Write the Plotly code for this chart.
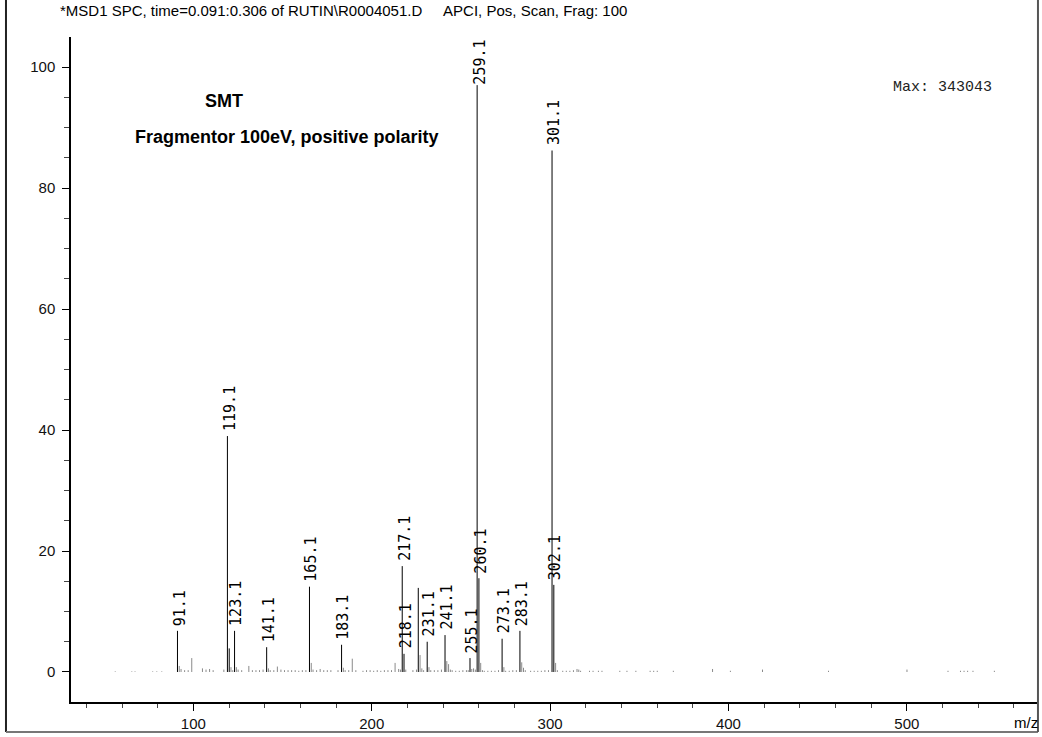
import plotly.graph_objects as go

# ---- data: labelled peaks (m/z, relative intensity %) ----
label_mz = [91.1, 119.1, 123.1, 141.1, 165.1, 183.1, 217.1, 218.1, 231.1, 241.1,
            255.1, 259.1, 260.1, 273.1, 283.1, 301.1, 302.1]
label_int = [6.8, 39.0, 6.8, 4.1, 14.1, 4.5, 17.5, 3.0, 5.0, 6.1,
             2.3, 100.0, 15.5, 5.5, 6.8, 86.2, 14.4]

# other notable (unlabelled) peaks drawn in black
major_mz = [120.1, 226.1]
major_int = [3.9, 13.9]

# minor peaks / noise (grey)
minor_mz = [56.2, 65.5, 67.3, 77.2, 79.5, 82.3, 92.1, 93.1, 95.1, 97.1, 99.1,
            105.1, 107.1, 109.1, 111.1, 117.1, 121.1, 122.1, 124.1, 125.1, 127.1,
            131.1, 133.1, 135.1, 137.1, 139.1, 142.1, 143.1, 145.1, 147.1, 149.1,
            151.1, 153.1, 155.1, 157.1, 159.1, 161.1, 163.1, 166.1, 167.1, 169.1,
            171.1, 173.1, 175.1, 177.1, 181.1, 184.1, 185.1, 187.1, 189.1, 191.1,
            195.1, 197.1, 199.1, 201.1, 203.1, 205.1, 207.1, 209.1, 211.1, 213.1,
            215.1, 216.1, 219.1, 223.1, 225.1, 227.1, 228.1, 229.1, 232.1, 233.1,
            235.1, 237.1, 239.1, 242.1, 243.1, 244.1, 245.1, 247.1, 249.1, 251.1,
            253.1, 254.1, 256.1, 257.1, 258.1, 261.1, 262.1, 263.1, 265.1, 267.1,
            269.1, 271.1, 274.1, 275.1, 277.1, 279.1, 281.1, 284.1, 285.1, 286.1,
            289.1, 291.1, 293.1, 295.1, 297.1, 299.1, 303.1, 304.1, 307.1, 309.1,
            311.1, 313.1, 315.1, 316.1, 317.1, 322.1, 324.1, 327.1, 329.1, 339.1,
            343.1, 348.1, 356.1, 358.1, 360.1, 369.1, 391.1, 401.1, 419.1, 456.1,
            500.1, 523.1, 530.1, 532.1, 534.1, 537.1, 549.1]
minor_int = [0.1, 0.1, 0.1, 0.1, 0.1, 0.1, 1.0, 0.5, 0.3, 0.3, 2.3,
             0.6, 0.4, 0.5, 0.3, 0.4, 0.8, 0.3, 0.8, 0.4, 0.3,
             1.0, 0.3, 0.3, 0.3, 0.4, 0.6, 0.3, 0.3, 0.9, 0.4,
             0.3, 0.3, 0.3, 0.3, 0.2, 0.3, 0.3, 1.5, 0.4, 0.3,
             0.5, 0.3, 0.3, 0.3, 0.3, 0.7, 0.3, 0.3, 2.2, 0.3,
             0.2, 0.3, 0.3, 0.2, 0.3, 0.2, 0.3, 0.3, 0.3, 1.5,
             0.5, 0.4, 0.4, 0.3, 0.4, 2.8, 0.6, 0.3, 0.8, 0.3,
             0.3, 0.3, 0.4, 1.8, 1.3, 0.4, 0.3, 0.2, 0.2, 0.3,
             0.3, 0.3, 0.5, 0.6, 0.4, 1.5, 0.3, 0.2, 0.2, 0.2,
             0.2, 0.3, 0.8, 0.2, 0.2, 0.3, 0.3, 1.6, 0.7, 0.3,
             0.2, 0.2, 0.2, 0.2, 0.3, 0.3, 1.5, 0.3, 0.2, 0.2,
             0.2, 0.3, 0.5, 0.4, 0.2, 0.2, 0.2, 0.2, 0.2, 0.2,
             0.2, 0.2, 0.2, 0.2, 0.2, 0.2, 0.5, 0.2, 0.4, 0.2,
             0.4, 0.2, 0.2, 0.2, 0.2, 0.2, 0.2]

title_text = "*MSD1 SPC, time=0.091:0.306 of RUTIN\\R0004051.D\u00a0\u00a0\u00a0\u00a0\u00a0APCI, Pos, Scan, Frag: 100"
max_text = "Max: 343043"

x_range = [31.4, 573]
y_range = [-4.96, 104.96]


def sticks(mz, inten):
    xs, ys = [], []
    for m, v in zip(mz, inten):
        xs += [m, m, None]
        ys += [0, v, None]
    return xs, ys


fig = go.Figure()
gx, gy = sticks(minor_mz, minor_int)
fig.add_trace(go.Scatter(x=gx, y=gy, mode="lines", line=dict(color="#8a8a8a", width=1),
                         hoverinfo="skip", showlegend=False))
bx, by = sticks(label_mz + major_mz, label_int + major_int)
fig.add_trace(go.Scatter(x=bx, y=by, mode="lines", line=dict(color="black", width=1),
                         hoverinfo="skip", showlegend=False))

annotations = []
label_font = dict(family="DejaVu Sans Mono", size=15, color="black")
for m, v in zip(label_mz, label_int):
    if v > 90:
        # label would leave plot area: pin it to the top, over the line
        annotations.append(dict(x=m, y=y_range[1], xref="x", yref="y", text=f"{m:.1f}",
                                textangle=-90, showarrow=False, xanchor="center",
                                yanchor="top", xshift=2, yshift=-2, bgcolor="white",
                                font=label_font, borderpad=0))
    else:
        annotations.append(dict(x=m, y=v, xref="x", yref="y", text=f"{m:.1f}",
                                textangle=-90, showarrow=False, xanchor="center",
                                yanchor="bottom", xshift=2, yshift=4,
                                font=label_font, borderpad=0))

annotations += [
    dict(x=0.2816, y=1.0406, xref="paper", yref="paper", text=title_text, showarrow=False,
         xanchor="center", yanchor="middle",
         font=dict(family="Liberation Sans Narrow, Arial Narrow, Liberation Sans", size=15, color="black")),
    dict(x=0.1584, y=0.9038, xref="paper", yref="paper", text="<b>SMT</b>", showarrow=False,
         xanchor="center", yanchor="middle",
         font=dict(family="Liberation Sans Narrow, Arial Narrow, Liberation Sans", size=18, color="black")),
    dict(x=0.2236, y=0.8496, xref="paper", yref="paper",
         text="<b>Fragmentor 100eV, positive polarity</b>", showarrow=False,
         xanchor="center", yanchor="middle",
         font=dict(family="Liberation Sans Narrow, Arial Narrow, Liberation Sans", size=18, color="black")),
    dict(x=0.9017, y=0.9248, xref="paper", yref="paper", text=max_text, showarrow=False,
         xanchor="center", yanchor="middle",
         font=dict(family="Liberation Mono", size=15, color="#222")),
    dict(x=0.9886, y=-0.0301, xref="paper", yref="paper", text="m/z", showarrow=False,
         xanchor="center", yanchor="middle",
         font=dict(family="Liberation Sans Narrow, Arial Narrow, Liberation Sans", size=15, color="black")),
]

shapes = [
    dict(type="line", xref="paper", yref="paper", x0=-0.0673, x1=-0.0673, y0=1.06, y1=-0.0451,
         line=dict(color="#222", width=2)),
    dict(type="line", xref="paper", yref="paper", x0=-0.0673, x1=1.001, y0=-0.0451, y1=-0.0451,
         line=dict(color="#777", width=2)),
    dict(type="line", xref="paper", yref="paper", x0=1.001, x1=1.001, y0=-0.0451, y1=1.06,
         line=dict(color="#555", width=2)),
]

tickfont = dict(family="Liberation Sans", size=15, color="#111")
fig.update_layout(
    width=1042, height=737,
    margin=dict(l=71, r=5, t=37, b=35),
    paper_bgcolor="white", plot_bgcolor="white",
    annotations=annotations, shapes=shapes,
    xaxis=dict(range=x_range, showline=True, linecolor="black", linewidth=1.5,
               ticks="outside", ticklen=7, tickcolor="black", tick0=0, dtick=100,
               minor=dict(dtick=20, ticklen=4, ticks="outside", tickcolor="#444"),
               showgrid=False, zeroline=False, tickfont=tickfont),
    yaxis=dict(range=y_range, showline=True, linecolor="black", linewidth=1.5,
               ticks="outside", ticklen=7, tickcolor="black", tick0=0, dtick=20,
               minor=dict(dtick=5, ticklen=5, ticks="outside", tickcolor="#444"),
               ticklabelstandoff=4,
               showgrid=False, zeroline=False, tickfont=tickfont),
)

fig.write_html("out.html")
